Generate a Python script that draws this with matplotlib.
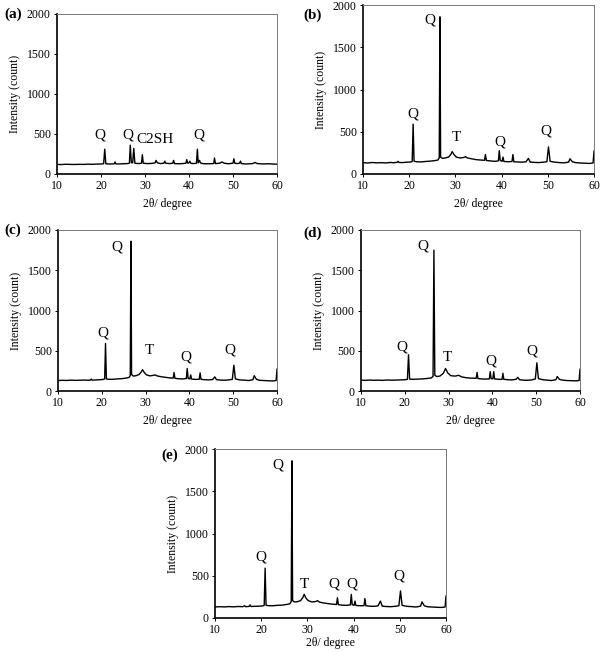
import numpy as np
import matplotlib
matplotlib.use("Agg")
import matplotlib.pyplot as plt

plt.rcParams['font.family'] = ['Liberation Serif', 'DejaVu Serif']

# XRD traces: (2theta, intensity)
trace_a = [(10, 120), (11, 118), (12, 122), (13, 120), (14, 119), (15, 121), (16, 120), (17, 123),
           (18, 121), (19, 124), (20, 125), (20.6, 128), (20.85, 310), (21.1, 128), (22, 125),
           (23, 127), (23.2, 150), (23.4, 126), (24, 125), (25, 128), (26, 130), (26.45, 135),
           (26.65, 360), (26.9, 140), (27.2, 140), (27.45, 320), (27.7, 135), (28.5, 130),
           (29.2, 135), (29.4, 240), (29.6, 135), (30.5, 130), (31.5, 132), (32.3, 140),
           (32.5, 170), (32.8, 140), (33.5, 130), (34.3, 135), (34.5, 160), (34.7, 135),
           (35.5, 130), (36.3, 135), (36.5, 170), (36.7, 130), (37.5, 128), (38.5, 130),
           (39.3, 135), (39.5, 180), (39.7, 135), (40.0, 140), (40.2, 160), (40.4, 135),
           (41.0, 130), (41.7, 135), (41.9, 310), (42.1, 140), (42.4, 170), (42.6, 140),
           (43.0, 130), (44, 128), (45.6, 130), (45.8, 200), (46.0, 130), (47.0, 135),
           (47.5, 150), (48, 135), (49, 128), (50.0, 135), (50.2, 190), (50.4, 135), (51.0, 130),
           (51.5, 135), (51.7, 160), (51.9, 130), (53, 125), (54.5, 130), (55, 145), (55.5, 130),
           (57, 125), (58, 128), (59, 125), (60, 122)]

trace_b = [(10, 135), (11, 130), (12, 136), (13, 132), (14, 134), (15, 131), (16, 137), (16.5, 133),
           (17.4, 138), (17.6, 150), (17.8, 136), (18.5, 135), (19.5, 140), (20.3, 142), (20.65, 150),
           (20.85, 590), (21.05, 152), (21.5, 145), (22.5, 143), (23.5, 148), (24.5, 152), (25.5, 158),
           (26.2, 165), (26.5, 190), (26.65, 1860), (26.8, 200), (27.2, 185), (27.8, 190), (28.5, 200),
           (29.0, 230), (29.3, 265), (29.7, 230), (30.2, 200), (31, 190), (31.8, 195), (32.2, 205),
           (32.6, 190), (33.5, 180), (34.5, 170), (35.5, 165), (36.3, 162), (36.5, 230), (36.7, 160),
           (37.5, 155), (38.5, 150), (39.3, 155), (39.5, 275), (39.7, 160), (40.1, 150), (40.3, 200),
           (40.5, 148), (41.5, 145), (42.25, 148), (42.45, 230), (42.65, 145), (43.5, 142), (44.5, 140),
           (45.3, 145), (45.8, 185), (46.2, 140), (47, 138), (48, 135), (49, 140), (49.8, 145),
           (50.15, 320), (50.5, 150), (51.5, 140), (52.5, 135), (53.5, 132), (54.5, 140), (54.8, 180),
           (55.3, 145), (56, 135), (57, 130), (58, 128), (59, 125), (59.8, 130), (60, 270)]

trace_c = [(10, 130), (11, 133), (12, 131), (13, 135), (14, 132), (15, 134), (16, 136), (17, 133),
           (17.4, 136), (17.6, 148), (17.8, 135), (18.5, 137), (19.5, 140), (20.3, 143), (20.65, 150),
           (20.85, 590), (21.05, 150), (21.5, 146), (22.5, 145), (23.5, 150), (24.5, 153), (25.5, 160),
           (26.2, 168), (26.5, 190), (26.65, 1860), (26.8, 205), (27.2, 185), (27.8, 190), (28.5, 205),
           (29.0, 235), (29.3, 265), (29.7, 230), (30.2, 200), (31, 188), (31.8, 195), (32.2, 200),
           (32.6, 188), (33.5, 178), (34.5, 170), (35.5, 163), (36.3, 160), (36.5, 230), (36.7, 158),
           (37.5, 152), (38.5, 150), (39.3, 155), (39.5, 280), (39.7, 158), (40.1, 150), (40.3, 200),
           (40.5, 148), (41.5, 144), (42.25, 146), (42.45, 225), (42.65, 145), (43.5, 140), (44.5, 138),
           (45.3, 142), (45.8, 175), (46.2, 140), (47, 136), (48, 134), (49, 138), (49.8, 145),
           (50.15, 320), (50.5, 150), (51.5, 138), (52.5, 135), (53.5, 130), (54.5, 140), (54.8, 190),
           (55.3, 145), (56, 133), (57, 130), (58, 127), (59, 125), (59.8, 130), (60, 270)]

trace_d = [(10, 135), (11, 132), (12, 136), (13, 133), (14, 135), (15, 132), (16, 137), (17, 134),
           (18, 136), (19, 138), (20, 140), (20.6, 145), (20.85, 450), (21.1, 148), (22, 145),
           (23, 148), (24, 150), (25, 155), (26, 162), (26.45, 180), (26.65, 1750), (26.85, 195),
           (27.3, 180), (28, 185), (28.8, 220), (29.3, 280), (29.8, 225), (30.5, 190), (31.5, 185),
           (32.3, 195), (33, 175), (34, 165), (35, 160), (36.3, 158), (36.5, 230), (36.7, 155),
           (37.5, 150), (38.5, 148), (39.3, 150), (39.5, 240), (39.7, 155), (40.1, 150), (40.3, 240),
           (40.5, 150), (41.5, 145), (42.2, 145), (42.4, 220), (42.6, 145), (43.5, 140), (44.5, 138),
           (45.4, 145), (45.8, 170), (46.2, 140), (47, 135), (48, 133), (49, 138), (49.8, 150),
           (50.15, 350), (50.5, 155), (51.5, 140), (52.5, 135), (53.5, 130), (54.5, 140), (54.8, 180),
           (55.3, 145), (56, 135), (57, 130), (58, 128), (59, 126), (59.8, 130), (60, 270)]

trace_e = [(10, 130), (11, 134), (12, 131), (13, 135), (14, 132), (15, 136), (16, 134), (16.4, 145),
           (16.6, 134), (17.4, 137), (17.6, 155), (17.8, 136), (18.5, 138), (19.5, 140), (20.3, 143),
           (20.65, 150), (20.85, 590), (21.05, 152), (21.5, 146), (22.5, 145), (23.5, 150), (24.5, 152),
           (25.5, 160), (26.2, 168), (26.5, 195), (26.65, 1860), (26.8, 205), (27.2, 190), (27.8, 192),
           (28.5, 205), (29.0, 240), (29.3, 280), (29.7, 235), (30.2, 205), (31, 190), (31.8, 195),
           (32.2, 205), (32.6, 188), (33.5, 178), (34.5, 170), (35.5, 163), (36.3, 160), (36.5, 240),
           (36.7, 158), (37.5, 152), (38.5, 150), (39.3, 155), (39.5, 280), (39.7, 158), (40.1, 150),
           (40.3, 200), (40.5, 148), (41.5, 145), (42.25, 146), (42.45, 230), (42.65, 145), (43.5, 140),
           (44.5, 138), (45.3, 145), (45.8, 200), (46.2, 140), (47, 136), (48, 134), (49, 138),
           (49.8, 145), (50.15, 320), (50.5, 150), (51.5, 138), (52.5, 135), (53.5, 130), (54.5, 140),
           (54.8, 190), (55.3, 145), (56, 133), (57, 130), (58, 127), (59, 125), (59.8, 130), (60, 260)]

# peak labels: (text, 2theta, intensity)
labels_a = [("Q", 19.8, 490), ("Q", 26.1, 490), ("C2SH", 32.3, 437), ("Q", 42.3, 490)]
labels_b = [("Q", 20.9, 710), ("Q", 24.5, 1822), ("T", 30.3, 430), ("Q", 39.7, 380), ("Q", 49.6, 509)]
labels_c = [("Q", 20.2, 717), ("Q", 23.5, 1793), ("T", 30.8, 509), ("Q", 39.2, 426), ("Q", 49.3, 509)]
labels_d = [("Q", 19.4, 550), ("Q", 24.2, 1801), ("T", 29.8, 419), ("Q", 39.7, 373), ("Q", 49.1, 497)]
labels_e = [("Q", 20.0, 725), ("Q", 23.6, 1811), ("T", 29.3, 399), ("Q", 35.8, 399), ("Q", 39.7, 399),
            ("Q", 49.7, 500)]

x_ticks = [10, 20, 30, 40, 50, 60]
y_ticks = [0, 500, 1000, 1500, 2000]

W, H = 602, 652
fig = plt.figure(figsize=(W / 100, H / 100), dpi=100)


def px_axes(left, top, right, bottom):
    return fig.add_axes([left / W, 1 - bottom / H, (right - left) / W, (bottom - top) / H])


def draw_panel(rect, trace, labels, tag, tag_xy, xpad=4):
    ax = px_axes(*rect)
    tt, inten = np.array(trace).T
    ax.plot(tt, inten, color='black', lw=1.0)
    for txt, x, y in labels:
        ax.text(x, y, txt, ha='center', va='center', fontsize=11)
    ax.set_xlim(10, 60)
    ax.set_ylim(0, 2000)
    ax.set_xticks(x_ticks)
    ax.set_yticks(y_ticks)
    ax.tick_params(labelsize=8.5, length=2.5, width=0.7, direction='out', pad=2)
    ax.set_xlabel('2θ/ degree', fontsize=8.5, labelpad=xpad)
    ax.set_ylabel('Intensity (count)', fontsize=8.5, labelpad=4)
    for side in ['left', 'bottom']:
        ax.spines[side].set_linewidth(1.2)
    for side in ['top', 'right']:
        ax.spines[side].set_color('#777777')
        ax.spines[side].set_linewidth(0.7)
    fig.text(tag_xy[0] / W, 1 - tag_xy[1] / H, tag, fontsize=11, fontweight='bold',
             ha='center', va='center')
    return ax


draw_panel((57, 14, 277, 174), trace_a, labels_a, '(a)', (13, 14))
draw_panel((363, 5, 594, 174), trace_b, labels_b, '(b)', (313, 15))
draw_panel((58, 230, 277, 391), trace_c, labels_c, '(c)', (13, 230))
draw_panel((361, 230, 580, 391), trace_d, labels_d, '(d)', (313, 233))
draw_panel((215, 449, 446, 618), trace_e, labels_e, '(e)', (170, 455), xpad=0.5)

fig.savefig('out.png', dpi=100)
